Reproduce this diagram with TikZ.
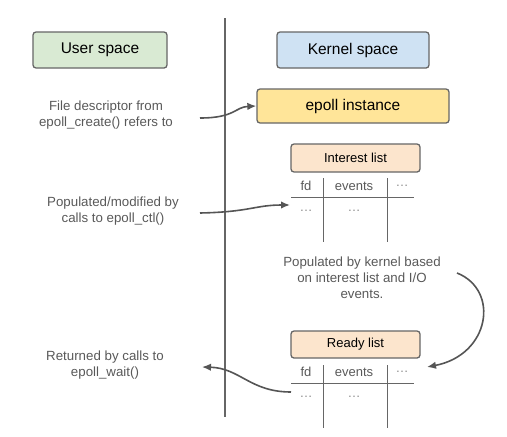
\documentclass[tikz,border=0pt]{standalone}
\usepackage{fontspec}
\setmainfont{Liberation Sans}
\usetikzlibrary{arrows.meta}
\definecolor{bordergray}{HTML}{666666}
\definecolor{txtgray}{HTML}{595959}
\definecolor{dotgray}{HTML}{8C8C8C}
\definecolor{arrgray}{HTML}{555555}
\definecolor{ugreen}{HTML}{D9EAD3}
\definecolor{kblue}{HTML}{CFE2F3}
\definecolor{eyellow}{HTML}{FFE599}
\definecolor{lorange}{HTML}{FCE5CD}
\tikzset{
  titlebox/.style={draw=bordergray, line width=1.3pt, rounded corners=3pt, inner sep=0pt, font=\fontsize{15.5}{18}\selectfont, text=black},
  listbox/.style={draw=bordergray, line width=1.3pt, rounded corners=3pt, fill=lorange, inner sep=0pt, font=\fontsize{13}{15}\selectfont, text=black},
  note/.style={align=center, text=txtgray, font=\fontsize{13.3}{16}\selectfont},
  cell/.style={text=txtgray, font=\fontsize{13}{15}\selectfont},
  dotcell/.style={text=dotgray, font=\fontsize{13}{15}\selectfont},
  tline/.style={draw=bordergray, line width=1pt},
  conn/.style={draw=arrgray, line width=1.6pt, -{Latex[length=9pt,width=7.5pt]}},
}
\begin{document}
\begin{tikzpicture}[x=1pt,y=-1pt]
\useasboundingbox (0,0) rectangle (507,437);
% divider
\coordinate (dtop) at (225,18);
\coordinate (dbot) at (225,417);
\draw[draw=bordergray, line width=1.8pt] (dtop) -- (dbot);
% headers
\node[titlebox, fill=ugreen, minimum width=134pt, minimum height=36pt] (user) at (100,50) {User space};
\node[titlebox, fill=kblue, minimum width=152pt, minimum height=36pt] (kernel) at (353,50) {Kernel space};
\node[titlebox, fill=eyellow, minimum width=192pt, minimum height=34pt] (epoll) at (353,106) {epoll instance};
% notes left
\node[note] (n1) at (106,115) {File descriptor from\\epoll\_create() refers to};
\node[note] (n2) at (113,211) {Populated/modified by\\calls to epoll\_ctl()};
\node[note] (n3) at (105,365) {Returned by calls to\\epoll\_wait()};
\node[note] (n4) at (362,278) {Populated by kernel based\\on interest list and I/O\\events.};
% interest list
\node[listbox, minimum width=129pt, minimum height=28pt] (ilist) at (355.5,158) {Interest list};
\coordinate (ihl) at (291,197);
\coordinate (ihr) at (414,197);
\coordinate (iv1t) at (323,178);
\coordinate (iv1b) at (323,242);
\coordinate (iv2t) at (387,178);
\coordinate (iv2b) at (387,242);
\draw[tline] (ihl) -- (ihr);
\draw[tline] (iv1t) -- (iv1b);
\draw[tline] (iv2t) -- (iv2b);
\node[cell] (ifd) at (306,186) {fd};
\node[cell] (iev) at (354,186) {events};
\node[dotcell] (idots) at (402,186) {\ldots};
\node[dotcell] (ir1) at (306,211) {\ldots};
\node[dotcell] (ir2) at (354,211) {\ldots};
% ready list
\node[listbox, minimum width=129pt, minimum height=27pt] (rlist) at (355.5,344.5) {Ready list};
\coordinate (rhl) at (291,383);
\coordinate (rhr) at (414,383);
\coordinate (rv1t) at (323,365);
\coordinate (rv1b) at (323,428);
\coordinate (rv2t) at (387,365);
\coordinate (rv2b) at (387,428);
\draw[tline] (rhl) -- (rhr);
\draw[tline] (rv1t) -- (rv1b);
\draw[tline] (rv2t) -- (rv2b);
\node[cell] (rfd) at (306,372) {fd};
\node[cell] (rev) at (354,372) {events};
\node[dotcell] (rdots) at (402,372) {\ldots};
\node[dotcell] (rr1) at (306,397) {\ldots};
\node[dotcell] (rr2) at (354,397) {\ldots};
% connectors
\coordinate (a1s) at (200,118);
\draw[conn] (a1s) .. controls (235,118) and (235,107) .. (epoll.west);
\coordinate (a2s) at (200,213);
\coordinate (a2e) at (290,205);
\draw[conn] (a2s) .. controls (250,212) and (255,205) .. (a2e);
\coordinate (a3s) at (457,273);
\coordinate (a3e) at (427,367);
\draw[conn] (a3s) .. controls (500,290) and (490,355) .. (a3e);
\coordinate (a4s) at (291,392);
\coordinate (a4e) at (202,367);
\draw[conn] (a4s) .. controls (250,392) and (240,368) .. (a4e);
\end{tikzpicture}
\end{document}
